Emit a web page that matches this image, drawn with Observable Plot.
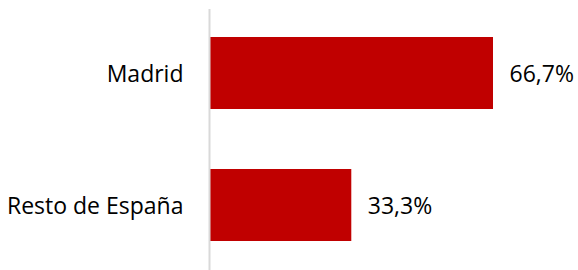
<!DOCTYPE html>
<html>
<head>
<meta charset="utf-8">
<script src="https://cdn.jsdelivr.net/npm/d3@7"></script>
<script src="https://cdn.jsdelivr.net/npm/@observablehq/plot@0.6"></script>
<style>
  html, body { margin: 0; padding: 0; background: #fff; }
  #chart svg { display: block; }
</style>
</head>
<body>
<div id="chart"></div>
<script>
const categories = ["Madrid", "Resto de España"];
const values = [66.7, 33.3];

const data = categories.map((c, i) => ({category: c, value: values[i]}));
const fmt = v => v.toFixed(1).replace(".", ",") + "%";

const chart = Plot.plot({
  width: 578,
  height: 270,
  marginLeft: 210,
  marginRight: 85,
  marginTop: 9,
  marginBottom: 0,
  style: {fontFamily: "'Open Sans', sans-serif", fontSize: "23px", color: "#000", background: "#fff"},
  x: {domain: [0, 66.7], axis: null},
  y: {domain: categories, paddingInner: 0.453, paddingOuter: 0.2115, label: null},
  marks: [
    Plot.barX(data, {x: "value", y: "category", fill: "#C00000"}),
    Plot.ruleX([0], {stroke: "#d9d9d9", strokeWidth: 2, dx: -1}),
    Plot.axisY({tickSize: 0, tickPadding: 27, fontSize: 23, label: null, fill: "#000", dy: 1}),
    Plot.text(data, {x: "value", y: "category", text: d => fmt(d.value), textAnchor: "start", dx: 16, dy: 1, fontSize: 23, fill: "#000"})
  ]
});
document.getElementById("chart").appendChild(chart);
</script>
</body>
</html>
